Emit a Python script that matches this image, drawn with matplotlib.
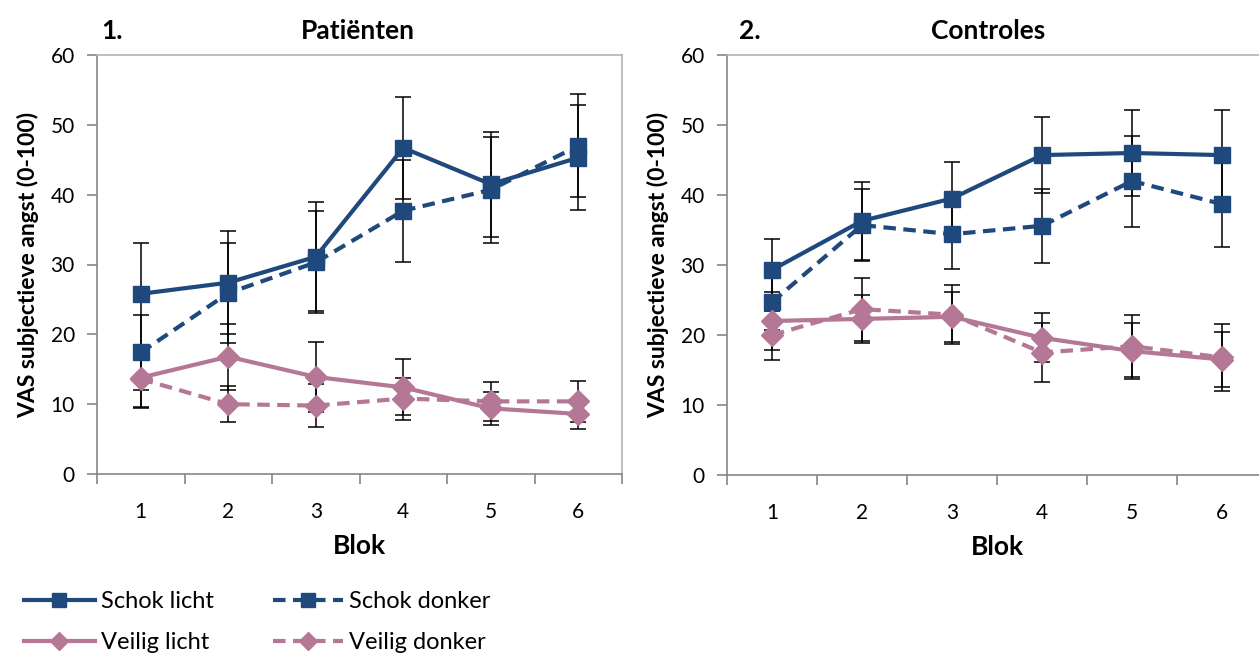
"""VAS subjectieve angst per blok: patiënten vs controles"""
import matplotlib
matplotlib.use('Agg')
import matplotlib.pyplot as plt
import numpy as np

plt.rcParams.update({'font.family': ['Lato', 'DejaVu Sans'], 'font.size': 15})

BLOK = [1, 2, 3, 4, 5, 6]
SERIES = ['Schok licht', 'Schok donker', 'Veilig licht', 'Veilig donker']

# Patiënten (mean, error)
pat_schok_licht = [25.8, 27.4, 31.1, 46.7, 41.5, 45.3]
pat_schok_licht_err = [7.3, 7.4, 7.8, 7.3, 7.5, 7.5]
pat_schok_donker = [17.4, 25.9, 30.3, 37.7, 40.7, 47.0]
pat_schok_donker_err = [5.4, 7.2, 7.3, 7.3, 7.6, 7.4]
pat_veilig_licht = [13.8, 16.8, 13.9, 12.4, 9.4, 8.6]
pat_veilig_licht_err = [4.4, 4.7, 5.0, 4.0, 2.4, 2.1]
pat_veilig_donker = [13.6, 10.0, 9.8, 10.8, 10.4, 10.4]
pat_veilig_donker_err = [4.0, 2.6, 3.1, 3.0, 2.8, 2.9]

# Controles (mean, error)
ctl_schok_licht = [29.3, 36.3, 39.5, 45.7, 46.0, 45.7]
ctl_schok_licht_err = [4.4, 5.6, 5.2, 5.4, 6.2, 6.5]
ctl_schok_donker = [24.7, 35.7, 34.4, 35.6, 42.0, 38.7]
ctl_schok_donker_err = [4.0, 5.1, 5.0, 5.3, 6.5, 6.1]
ctl_veilig_licht = [22.0, 22.3, 22.6, 19.6, 17.7, 16.5]
ctl_veilig_licht_err = [4.2, 3.4, 3.6, 3.5, 4.0, 3.9]
ctl_veilig_donker = [20.0, 23.7, 22.9, 17.5, 18.4, 16.8]
ctl_veilig_donker_err = [3.5, 4.5, 4.2, 4.2, 4.4, 4.8]

BLUE = '#1F497D'
PINK = '#B47896'
DASH = (0, (3, 1.8))
styles = [
    dict(color=BLUE, marker='s', ms=12, ls='-'),
    dict(color=BLUE, marker='s', ms=12, ls=DASH),
    dict(color=PINK, marker='D', ms=11.5, ls='-'),
    dict(color=PINK, marker='D', ms=11.5, ls=DASH),
]

fig = plt.figure(figsize=(12.59, 6.57), dpi=100)
W, H = 1259, 657
ax1 = fig.add_axes([97 / W, 183 / H, 525 / W, 419 / H])
ax2 = fig.add_axes([727 / W, 182 / H, 540 / W, 420 / H])

panels = [
    (ax1, [pat_schok_licht, pat_schok_donker, pat_veilig_licht, pat_veilig_donker],
     [pat_schok_licht_err, pat_schok_donker_err, pat_veilig_licht_err, pat_veilig_donker_err]),
    (ax2, [ctl_schok_licht, ctl_schok_donker, ctl_veilig_licht, ctl_veilig_donker],
     [ctl_schok_licht_err, ctl_schok_donker_err, ctl_veilig_licht_err, ctl_veilig_donker_err]),
]

handles = []
for ax, means, errs in panels:
    handles = []
    for m, e, st, name in zip(means, errs, styles, SERIES):
        ax.errorbar(BLOK, m, yerr=e, fmt='none', ecolor='black', elinewidth=1.1,
                    capsize=6, capthick=1.1, zorder=2)
        h, = ax.plot(BLOK, m, color=st['color'], marker=st['marker'], ms=st['ms'],
                     ls=st['ls'], lw=3, zorder=3, label=name)
        handles.append(h)
    ax.set_xlim(0.5, 6.5)
    ax.set_ylim(0, 60)
    ax.set_yticks(range(0, 61, 10))
    ax.set_xticks(BLOK)
    ax.set_xticks(np.arange(0.5, 6.6, 1), minor=True)
    ax.tick_params(axis='x', which='major', length=0, pad=20, labelsize=15)
    ax.tick_params(axis='x', which='minor', length=7, color='#868686', width=1.2)
    ax.tick_params(axis='y', length=7, color='#868686', width=1.2, labelsize=15, pad=9)
    for s in ['top', 'right']:
        ax.spines[s].set_color('#B4B4B4')
        ax.spines[s].set_linewidth(1.2)
    for s in ['left', 'bottom']:
        ax.spines[s].set_color('#868686')
        ax.spines[s].set_linewidth(1.2)
    ax.set_xlabel('Blok', fontsize=19, fontweight='bold', labelpad=9)
    ax.set_ylabel('VAS subjectieve angst (0-100)', fontsize=16.5, fontweight='bold', labelpad=8)

fig.text(112 / W, 1 - 31 / H, '1.', fontsize=19, fontweight='bold', ha='center', va='center')
fig.text(358 / W, 1 - 31 / H, 'Patiënten', fontsize=19, fontweight='bold', ha='center', va='center')
fig.text(750 / W, 1 - 31 / H, '2.', fontsize=19, fontweight='bold', ha='center', va='center')
fig.text(988 / W, 1 - 31 / H, 'Controles', fontsize=19, fontweight='bold', ha='center', va='center')

# row-wise legend: Schok licht | Schok donker / Veilig licht | Veilig donker
leg_handles = [handles[0], handles[2], handles[1], handles[3]]
fig.legend(handles=leg_handles, loc='upper left', bbox_to_anchor=(24 / W, 1 - 591 / H),
           ncol=2, frameon=False, fontsize=17, handlelength=3.0, handletextpad=0.25,
           columnspacing=2.5, labelspacing=0.85, borderpad=0, borderaxespad=0,
           markerscale=0.8)

fig.savefig('out.png', dpi=100, facecolor='white')
